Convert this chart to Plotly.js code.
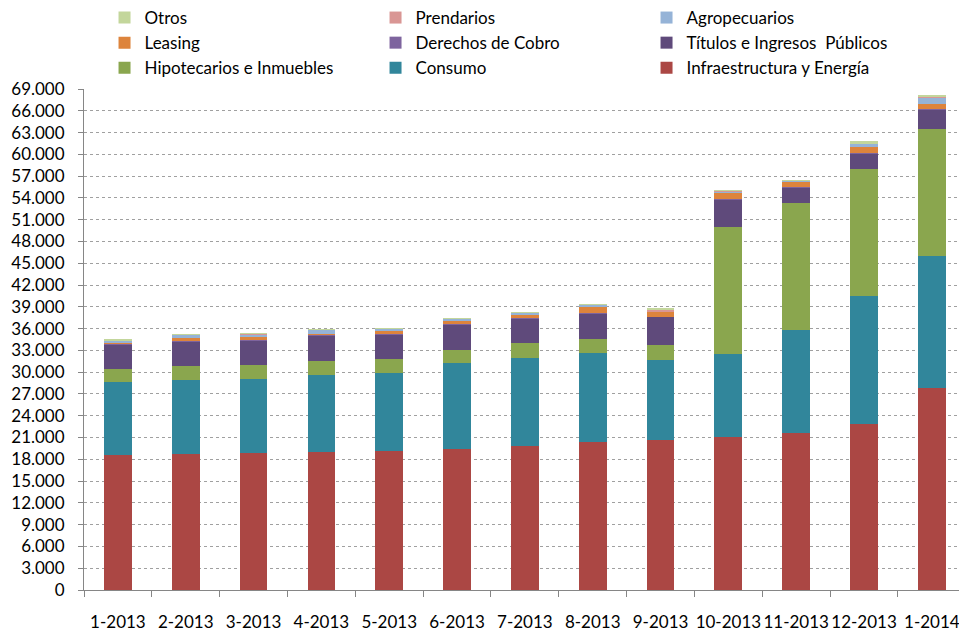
<!DOCTYPE html>
<html>
<head>
<meta charset="utf-8">
<script src="https://cdn.plot.ly/plotly-3.0.1.min.js"></script>
<style>html,body{margin:0;padding:0;background:#fff;}#chart{width:959px;height:633px;}</style>
</head>
<body>
<div id="chart"></div>
<script>
const categories = ["1-2013","2-2013","3-2013","4-2013","5-2013","6-2013","7-2013","8-2013","9-2013","10-2013","11-2013","12-2013","1-2014"];

const infraestructura = [18590, 18770, 18860, 19050, 19140, 19415, 19870, 20420, 20700, 21070, 21620, 22900, 27860];
const consumo         = [10050, 10150, 10190, 10550, 10740, 11845, 12080, 12220, 10970, 11430, 14180, 17630, 18130];
const hipotecarios    = [1790, 1920, 1930, 1930, 1930, 1790, 2060, 1920, 2070, 17490, 17490, 17440, 17490];
const titulos         = [3350, 3310, 3310, 3450, 3300, 3480, 3310, 3490, 3810, 3710, 2020, 2070, 2620];
const derechos        = [80, 80, 80, 80, 80, 130, 80, 100, 100, 100, 150, 120, 100];
const leasing         = [150, 420, 470, 150, 430, 380, 470, 780, 590, 820, 720, 840, 720];
const agropecuarios   = [280, 460, 310, 590, 280, 280, 270, 310, 60, 180, 180, 370, 780];
const prendarios      = [30, 30, 100, 20, 20, 20, 20, 20, 260, 90, 20, 20, 190];
const otros           = [250, 150, 180, 140, 160, 110, 120, 120, 270, 200, 70, 440, 270];

const seriesNames = ["Infraestructura y Energía","Consumo","Hipotecarios e Inmuebles","Títulos e Ingresos  Públicos","Derechos de Cobro","Leasing","Agropecuarios","Prendarios","Otros"];
const seriesValues = [infraestructura, consumo, hipotecarios, titulos, derechos, leasing, agropecuarios, prendarios, otros];
const seriesColors = ["#AB4744","#31869B","#8AA64E","#5F4A7B","#7E649E","#DD843C","#95B3D7","#D99694","#C3D69B"];

const traces = seriesNames.map((n, i) => ({
  type: "bar",
  name: n,
  x: categories,
  y: seriesValues[i],
  marker: {color: seriesColors[i], line: {width: 0}},
  hoverinfo: "name+y"
}));

const font = "Lato, 'Open Sans', sans-serif";

const layout = {
  width: 959,
  height: 633,
  barmode: "stack",
  bargap: 0.59,
  separators: ",.",
  paper_bgcolor: "#fff",
  plot_bgcolor: "#fff",
  font: {family: font, size: 17, color: "#000"},
  margin: {l: 84, r: 0, t: 89, b: 43, autoexpand: false},
  showlegend: true,
  legend: {
    orientation: "h",
    traceorder: "reversed",
    xref: "container",
    yref: "container",
    x: 0.109,
    xanchor: "left",
    y: 1,
    yanchor: "top",
    entrywidth: 226,
    font: {family: font, size: 17, color: "#000"},
    bgcolor: "rgba(0,0,0,0)",
    itemwidth: 30,
    tracegroupgap: 0
  },
  xaxis: {
    type: "category",
    range: [-0.5, 12.4],
    automargin: false,
    showline: true,
    linecolor: "#868686",
    linewidth: 1,
    ticks: "outside",
    tickson: "boundaries",
    ticklen: 6,
    tickcolor: "#868686",
    tickangle: 0,
    ticklabelstandoff: 17,
    showgrid: false,
    tickfont: {family: font, size: 17, color: "#000"}
  },
  yaxis: {
    range: [0, 69000],
    automargin: false,
    dtick: 3000,
    tick0: 0,
    tickformat: ",",
    showline: true,
    linecolor: "#868686",
    linewidth: 1,
    ticks: "outside",
    ticklen: 5,
    tickcolor: "#868686",
    ticklabelstandoff: 10,
    showgrid: true,
    gridcolor: "#a0a0a0",
    griddash: "dot",
    gridwidth: 1,
    zeroline: false,
    tickfont: {family: font, size: 17, color: "#000"}
  }
};

Plotly.newPlot("chart", traces, layout, {displayModeBar: false, staticPlot: true});
</script>
</body>
</html>
